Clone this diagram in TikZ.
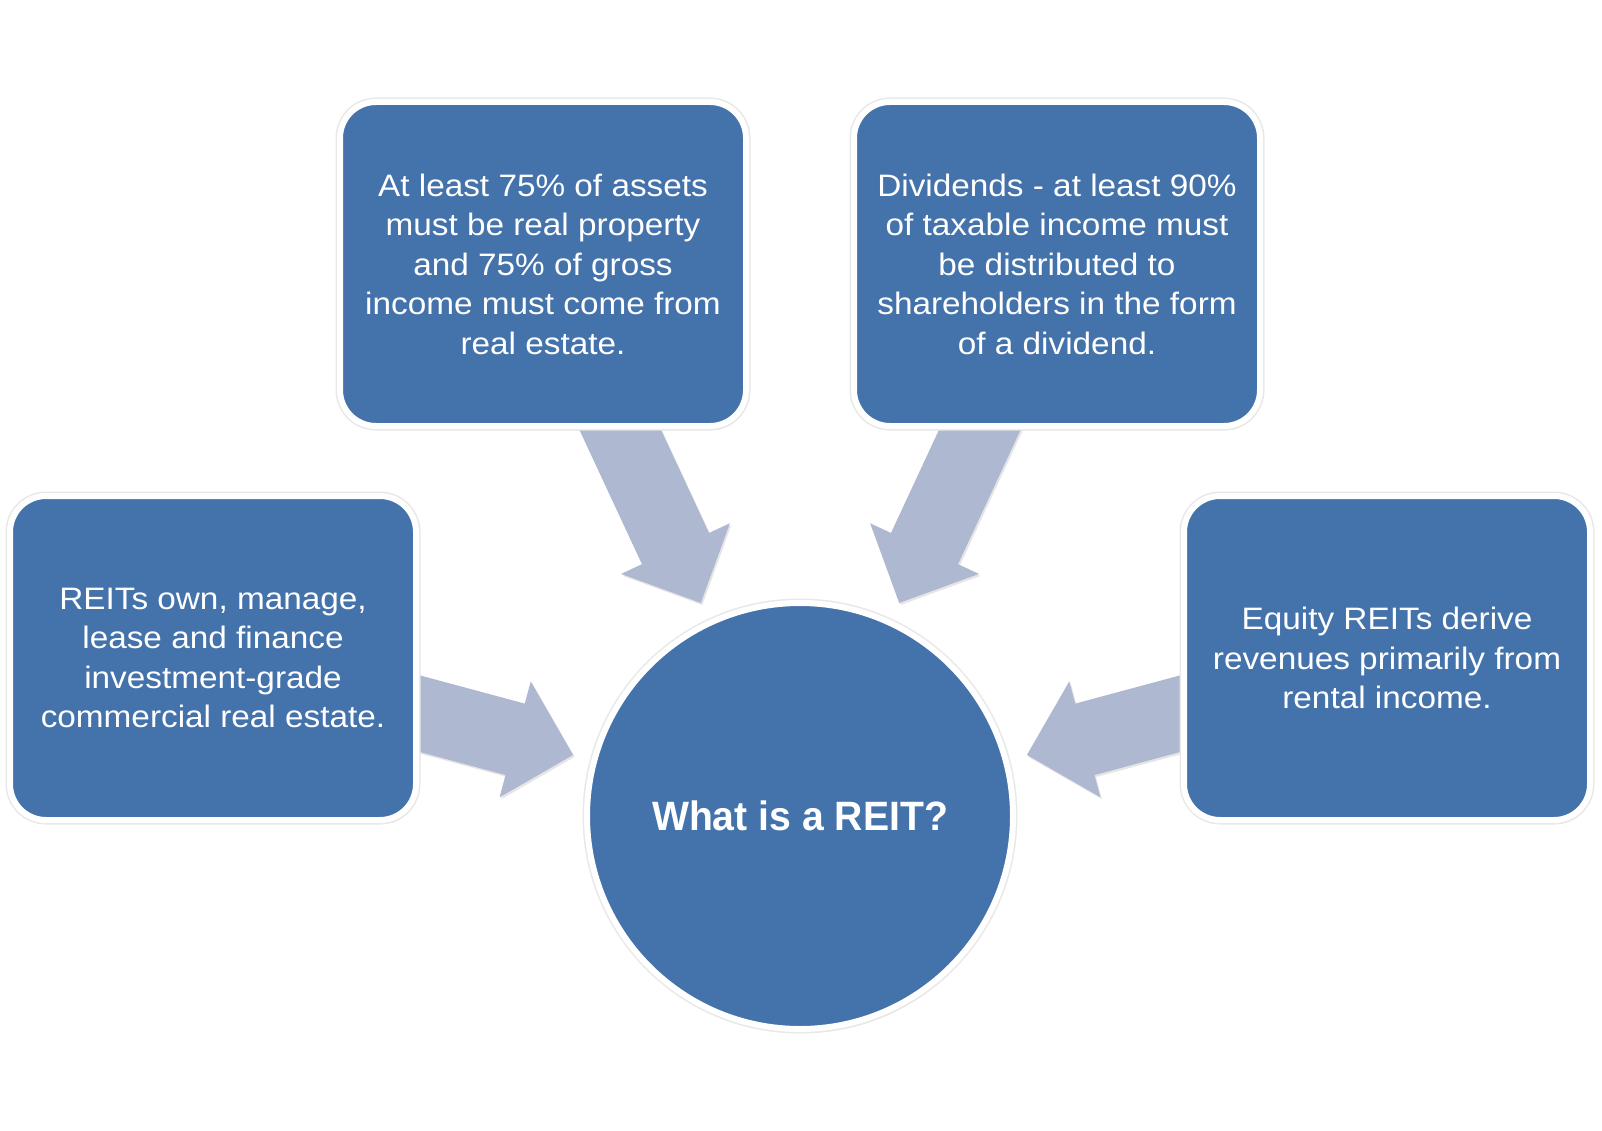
\documentclass[tikz,border=0pt]{standalone}
\usepackage{fontspec}
\setmainfont{Liberation Sans}
\newfontfamily\boxfont[FakeStretch=1.075]{Liberation Sans}
\newfontfamily\hubfont[FakeStretch=0.955]{Liberation Sans}
\usetikzlibrary{calc,shadows,backgrounds}
\definecolor{boxblue}{RGB}{68,114,170}
\definecolor{arrowc}{RGB}{174,185,209}
\newcommand{\blockarrow}[3]{%
  \coordinate (#3t) at ($(#2.center)!235pt!(#1.center)$);
  \coordinate (#3h) at ($(#3t)!60pt!(#1.center)$);
  \fill[arrowc, drop shadow={shadow xshift=1.5pt,shadow yshift=-2pt,opacity=.2}]
    (#3t) -- ($(#3h)!60pt!90:(#1.center)$) -- ($(#3h)!37pt!90:(#1.center)$)
    -- ($(#1.center)!37pt!-90:(#3t)$) -- ($(#1.center)!37pt!90:(#3t)$)
    -- ($(#3h)!37pt!-90:(#1.center)$) -- ($(#3h)!60pt!-90:(#1.center)$) -- cycle;}
\begin{document}
\begin{tikzpicture}[x=1pt,y=-1pt,
  halo/.style={preaction={draw=black!9, line width=9pt}},
  infobox/.style={rectangle, rounded corners=36pt, fill=boxblue, draw=white,
    line width=6pt, minimum width=406pt, minimum height=324pt, inner sep=0pt,
    text=white, align=center, font=\boxfont\fontsize{31}{39.5}\selectfont,
    drop shadow={shadow xshift=2pt,shadow yshift=-4pt,opacity=.3}, halo},
  hub/.style={circle, fill=boxblue, draw=white, line width=6pt,
    minimum size=426pt, inner sep=0pt, text=white,
    font=\hubfont\fontsize{41}{48}\selectfont\bfseries,
    drop shadow={shadow xshift=2pt,shadow yshift=-4pt,opacity=.3}, halo}]
\useasboundingbox (0,0) rectangle (1602,1131);
\node[infobox] (tl) at (543,264) {At least 75\% of assets\\must be real property\\and 75\% of gross\\income must come from\\real estate.};
\node[infobox] (tr) at (1057,264) {Dividends - at least 90\%\\of taxable income must\\be distributed to\\shareholders in the form\\of a dividend.};
\node[infobox] (lf) at (213,658) {REITs own, manage,\\lease and finance\\investment-grade\\commercial real estate.};
\node[infobox] (rt) at (1387,658) {Equity REITs derive\\revenues primarily from\\rental income.};
\node[hub] (c) at (800,816) {What is a REIT?};
\begin{scope}[on background layer]
  \fill[white] (0,0) rectangle (1602,1131);
  \blockarrow{tl}{c}{a1}
  \blockarrow{tr}{c}{a2}
  \blockarrow{lf}{c}{a3}
  \blockarrow{rt}{c}{a4}
\end{scope}
\end{tikzpicture}
\end{document}
